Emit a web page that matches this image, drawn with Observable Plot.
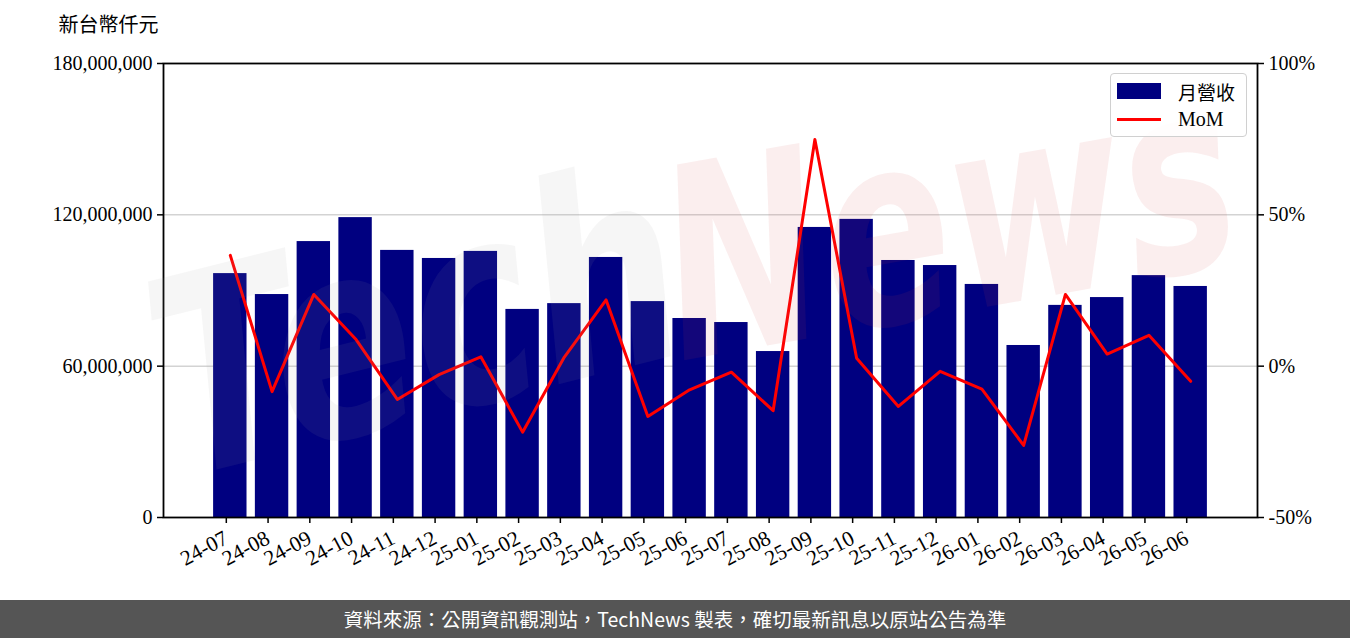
<!DOCTYPE html>
<html>
<head>
<meta charset="utf-8">
<script src="https://cdn.jsdelivr.net/npm/d3@7"></script>
<script src="https://cdn.jsdelivr.net/npm/@observablehq/plot@0.6"></script>
<style>
  html, body { margin: 0; padding: 0; background: #fff; }
  body { width: 1350px; height: 638px; overflow: hidden; position: relative; }
  #chart { position: absolute; left: 0; top: 0; }
  #footer { position: absolute; left: 0; top: 600px; width: 1350px; height: 38px; background: #555555;
    color: #fff; font-family: "Noto Sans CJK TC", "Noto Sans", sans-serif; font-size: 19.5px; line-height: 38px; text-align: center; }
  #legend { position: absolute; left: 1110px; top: 73px; width: 135px; height: 62px; border: 1.5px solid #d0d0d0;
    border-radius: 4px; background: rgba(255,255,255,0.85); font-family: "Liberation Serif", serif; font-size: 20px; }
  .lg-row { position: absolute; left: 6px; height: 24px; display: flex; align-items: center; }
  .lg-patch { width: 44px; height: 16px; background: #000080; }
  .lg-line { width: 44px; height: 3px; background: #ff0000; }
  .lg-text { margin-left: 17px; white-space: nowrap; }
  .wm { position: absolute; white-space: nowrap; font-family: "DejaVu Sans", sans-serif; font-weight: bold; font-style: italic;
    pointer-events: none; transform-origin: center center; }
</style>
</head>
<body>
<div id="chart"></div>
<div class="wm" id="wm1" style="left:150px; top:200px; font-size:210px; color:rgba(150,150,150,0.09); transform: rotate(-14deg) scale(1,1.3);">Tech</div>
<div class="wm" id="wm2" style="left:660px; top:110px; font-size:190px; color:rgba(210,70,70,0.09); transform: rotate(-10deg) scale(1,1.4);">News</div>
<div id="legend">
  <div class="lg-row" style="top:5px"><div class="lg-patch"></div><div class="lg-text" style="font-family:'Noto Sans CJK TC',sans-serif;font-size:19px">月營收</div></div>
  <div class="lg-row" style="top:33px"><div class="lg-line"></div><div class="lg-text">MoM</div></div>
</div>
<div id="footer">資料來源：公開資訊觀測站，TechNews 製表，確切最新訊息以原站公告為準</div>
<script>
// ---- data ----
const months = ["24-07","24-08","24-09","24-10","24-11","24-12","25-01","25-02","25-03","25-04","25-05","25-06",
                "25-07","25-08","25-09","25-10","25-11","25-12","26-01","26-02","26-03","26-04","26-05","26-06"];
// 月營收 (新台幣仟元)
const revenue = [96700000, 88400000, 109400000, 118900000, 105900000, 102700000, 105500000, 82500000, 84800000, 103100000, 85600000, 78900000,
                 77300000, 65800000, 115000000, 118200000, 101900000, 99900000, 92400000, 68200000, 84100000, 87200000, 95900000, 91600000];
// MoM (%)
const mom = [36.6, -8.4, 23.7, 9.0, -11.0, -2.8, 3.1, -21.8, 3.0, 21.9, -16.6, -7.8,
             -2.0, -14.7, 74.9, 2.6, -13.3, -1.7, -7.6, -26.2, 23.7, 4.0, 10.2, -5.0];
const leftTicks = [0, 60000000, 120000000, 180000000];
const rightTicks = [-50, 0, 50, 100];

const leftDomain = [0, 180000000];
const rightDomain = [-50, 100];
const toLeft = p => leftDomain[0] + (p - rightDomain[0]) / (rightDomain[1] - rightDomain[0]) * (leftDomain[1] - leftDomain[0]);
const toRight = v => rightDomain[0] + (v - leftDomain[0]) / (leftDomain[1] - leftDomain[0]) * (rightDomain[1] - rightDomain[0]);

const table = months.map((m, i) => ({month: m, revenue: revenue[i], mom: mom[i]}));

const chart = Plot.plot({
  width: 1350,
  height: 600,
  marginLeft: 163,
  marginRight: 93,
  marginTop: 63,
  marginBottom: 83,
  style: {fontFamily: "'Liberation Serif', serif", fontSize: "20px", color: "#000", background: "transparent", overflow: "visible"},
  x: {domain: months, paddingInner: 0.2, paddingOuter: 1.2, round: false, label: null},
  y: {domain: leftDomain, label: null},
  marks: [
    Plot.ruleY(leftTicks.slice(1, -1), {stroke: "#d3d3d3", strokeWidth: 1.5}),
    Plot.barY(table, {x: "month", y: "revenue", fill: "#000080"}),
    Plot.line(table, {x: "month", y: d => toLeft(d.mom), stroke: "#ff0000", strokeWidth: 3}),
    Plot.axisY({ticks: leftTicks, tickFormat: d3.format(","), tickSize: 6, tickPadding: 5, label: null, strokeWidth: 1.5}),
    Plot.axisY({anchor: "right", ticks: rightTicks.map(toLeft), tickFormat: d => Math.round(toRight(d)) + "%", tickSize: 6, tickPadding: 5, label: null, strokeWidth: 1.5}),
    Plot.axisX({tickRotate: -28, tickSize: 6, tickPadding: 13, dx: -4, label: null, strokeWidth: 1.5, fontSize: 21.5}),
    Plot.frame({stroke: "#000", strokeWidth: 1.8}),
    Plot.text(["新台幣仟元"], {frameAnchor: "top-left", textAnchor: "start", lineAnchor: "top", dx: -105, dy: -46,
      fontFamily: "'Noto Sans CJK TC', sans-serif", fontSize: 20})
  ]
});
document.getElementById("chart").appendChild(chart);
</script>
</body>
</html>
